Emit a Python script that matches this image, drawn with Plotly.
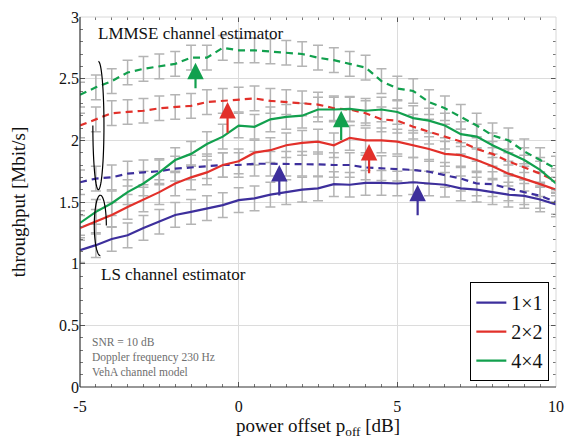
import numpy as np
import plotly.graph_objects as go

x_db = [-5, -4.5, -4, -3.5, -3, -2.5, -2, -1.5, -1, -0.5, 0, 0.5, 1, 1.5, 2, 2.5, 3,
        3.5, 4, 4.5, 5, 5.5, 6, 6.5, 7, 7.5, 8, 8.5, 9, 9.5, 10]

ls_1x1 = [1.11, 1.15, 1.20, 1.23, 1.29, 1.34, 1.395, 1.42, 1.45, 1.475, 1.515, 1.53, 1.56, 1.58,
          1.60, 1.61, 1.645, 1.64, 1.655, 1.655, 1.65, 1.66, 1.65, 1.64, 1.61, 1.60, 1.58, 1.56,
          1.55, 1.52, 1.48]
ls_2x2 = [1.29, 1.34, 1.395, 1.46, 1.52, 1.58, 1.65, 1.70, 1.74, 1.80, 1.83, 1.90, 1.92, 1.96,
          1.98, 1.99, 1.96, 2.02, 2.00, 2.00, 1.99, 1.96, 1.93, 1.89, 1.88, 1.84, 1.79, 1.73,
          1.69, 1.645, 1.60]
ls_4x4 = [1.33, 1.42, 1.49, 1.58, 1.65, 1.74, 1.84, 1.89, 1.97, 2.03, 2.12, 2.11, 2.17, 2.19,
          2.20, 2.25, 2.25, 2.255, 2.24, 2.25, 2.23, 2.18, 2.16, 2.12, 2.05, 2.03, 1.96, 1.90,
          1.84, 1.76, 1.65]
lmmse_1x1 = [1.66, 1.69, 1.70, 1.73, 1.74, 1.75, 1.77, 1.78, 1.79, 1.80, 1.80, 1.81, 1.81, 1.81,
             1.81, 1.805, 1.80, 1.80, 1.78, 1.775, 1.77, 1.76, 1.745, 1.72, 1.69, 1.65, 1.645,
             1.61, 1.58, 1.55, 1.50]
lmmse_2x2 = [2.12, 2.17, 2.22, 2.23, 2.24, 2.26, 2.27, 2.28, 2.31, 2.32, 2.33, 2.34, 2.32, 2.31,
             2.30, 2.29, 2.26, 2.25, 2.22, 2.17, 2.16, 2.11, 2.07, 2.03, 1.99, 1.93, 1.89, 1.83,
             1.78, 1.73, 1.67]
lmmse_4x4 = [2.37, 2.43, 2.48, 2.55, 2.58, 2.60, 2.62, 2.67, 2.67, 2.75, 2.73, 2.73, 2.72, 2.71,
             2.70, 2.67, 2.65, 2.62, 2.59, 2.48, 2.42, 2.40, 2.31, 2.26, 2.19, 2.12, 2.04, 2.00,
             1.91, 1.84, 1.77]
err_half = 0.1

legend_names = ["1\u00d71", "2\u00d72", "4\u00d74"]
colors = ["#3d2f9c", "#e2302a", "#12a04e"]

y_ticks = [0, 0.5, 1, 1.5, 2, 2.5, 3]
x_ticks = [-5, 0, 5, 10]

FONT = "Liberation Serif, Times New Roman, serif"

fig = go.Figure()

ls_series = [ls_1x1, ls_2x2, ls_4x4]
lmmse_series = [lmmse_1x1, lmmse_2x2, lmmse_4x4]

# error bars underneath everything
for ys in ls_series + lmmse_series:
    fig.add_trace(go.Scatter(
        x=x_db, y=ys, mode="markers", marker=dict(size=1, opacity=0),
        error_y=dict(type="constant", value=err_half, color="#b4b4b4", thickness=1.5, width=5),
        showlegend=False, hoverinfo="skip"))

# LMMSE (dashed)
for ys, c in zip(lmmse_series, colors):
    fig.add_trace(go.Scatter(x=x_db, y=ys, mode="lines",
                             line=dict(color=c, width=2.2, dash="7px,5px"),
                             showlegend=False))
# LS (solid)
for ys, c, n in zip(ls_series, colors, legend_names):
    fig.add_trace(go.Scatter(x=x_db, y=ys, mode="lines",
                             line=dict(color=c, width=2.2), name=n))

# arrows (LS -> LMMSE improvements)
arrows = [
    (1.28, 1.54, 1.80, colors[0]),
    (5.64, 1.38, 1.64, colors[0]),
    (-0.35, 2.05, 2.31, colors[1]),
    (4.11, 1.72, 1.97, colors[1]),
    (-1.36, 2.41, 2.63, colors[2]),
    (3.23, 1.99, 2.24, colors[2]),
]
for ax_, y0, y1, c in arrows:
    fig.add_annotation(x=ax_, y=y1, ax=ax_, ay=y0, xref="x", yref="y", axref="x", ayref="y",
                       showarrow=True, arrowhead=2, arrowsize=1.5, arrowwidth=2.2,
                       arrowcolor=c, text="")

# ellipse arcs
def arc(cx, cy, rx, ry, t0, t1):
    t = np.linspace(np.radians(t0), np.radians(t1), 60)
    xs = cx + rx * np.cos(t)
    ys = cy + ry * np.sin(t)
    return "M " + " L ".join(f"{a:.4f},{b:.4f}" for a, b in zip(xs, ys))

fig.add_shape(type="path", path=arc(-4.42, 2.12, 0.175, 0.52, 90, -180),
              xref="x", yref="y", line=dict(color="black", width=1.2))
fig.add_shape(type="path", path=arc(-4.36, 1.31, 0.19, 0.245, 0, 270),
              xref="x", yref="y", line=dict(color="black", width=1.2))

# frame: light top/right, dark left/bottom
fig.add_shape(type="line", xref="paper", yref="paper", x0=0, x1=1, y0=1, y1=1,
              line=dict(color="#d8d8d8", width=1))
fig.add_shape(type="line", xref="paper", yref="paper", x0=1, x1=1, y0=0, y1=1,
              line=dict(color="#d8d8d8", width=1))
fig.add_shape(type="line", xref="paper", yref="paper", x0=0, x1=0, y0=0, y1=1,
              line=dict(color="#333", width=1.2))
fig.add_shape(type="line", xref="paper", yref="paper", x0=0, x1=1, y0=0, y1=0,
              line=dict(color="#333", width=1.2))

fig.add_annotation(x=-4.5, y=2.865, xref="x", yref="y", text="LMMSE channel estimator",
                   showarrow=False, xanchor="left", yanchor="middle",
                   font=dict(family=FONT, size=17, color="#111"))
fig.add_annotation(x=-4.41, y=0.91, xref="x", yref="y", text="LS channel estimator",
                   showarrow=False, xanchor="left", yanchor="middle",
                   font=dict(family=FONT, size=17, color="#111"))
fig.add_annotation(x=-4.69, y=0.245, xref="x", yref="y",
                   text="SNR = 10 dB<br>Doppler frequency 230 Hz<br>VehA channel model",
                   showarrow=False, xanchor="left", yanchor="middle", align="left",
                   font=dict(family=FONT, size=11.5, color="#6e6e6e"))

fig.update_layout(
    width=573, height=441,
    margin=dict(l=80, r=9, t=16, b=53),
    paper_bgcolor="white", plot_bgcolor="white",
    font=dict(family=FONT, size=16, color="#111"),
    legend=dict(x=0.986, y=0.016, xanchor="right", yanchor="bottom",
                bordercolor="black", borderwidth=1, bgcolor="white",
                font=dict(family=FONT, size=20), itemwidth=30, tracegroupgap=0),
    xaxis=dict(range=[-5, 10], tickvals=x_ticks, ticktext=[str(v) for v in x_ticks],
               showgrid=True, gridcolor="#dcdcdc", gridwidth=1,
               showline=False, mirror="ticks",
               ticks="inside", ticklen=5, tickcolor="#555", zeroline=False,
               ticklabelstandoff=8,
               minor=dict(ticks="inside", ticklen=3, dtick=0.5, tick0=0, tickcolor="#777", showgrid=False),
               title=dict(text="power offset p<sub>off</sub> [dB]", font=dict(size=19), standoff=4),
               tickfont=dict(size=16)),
    yaxis=dict(range=[0, 3], tickvals=y_ticks, ticktext=[f"{v:g}" for v in y_ticks],
               showgrid=True, gridcolor="#dcdcdc", gridwidth=1,
               showline=False, mirror="ticks",
               ticks="inside", ticklen=5, tickcolor="#555", zeroline=False,
               minor=dict(ticks="inside", ticklen=3, dtick=0.1, tick0=0, tickcolor="#777", showgrid=False),
               title=dict(text="throughput [Mbit/s]", font=dict(size=19), standoff=28),
               tickfont=dict(size=16)),
)

fig.write_html("out.html")
